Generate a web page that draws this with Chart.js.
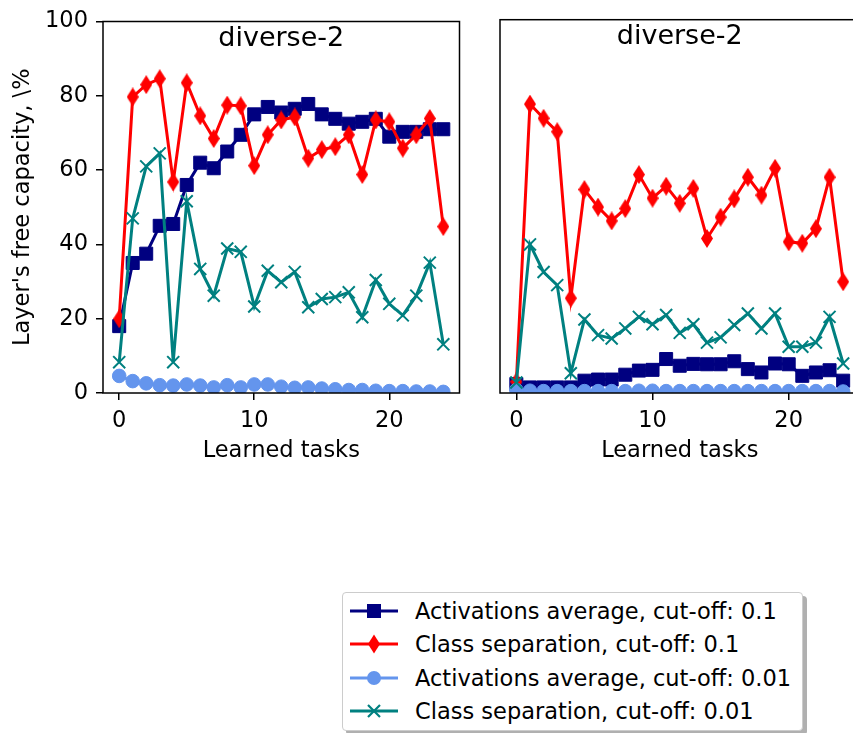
<!DOCTYPE html>
<html>
<head>
<meta charset="utf-8">
<script src="https://cdn.jsdelivr.net/npm/chart.js@4.4.0/dist/chart.umd.min.js"></script>
<style>
  html, body { margin: 0; padding: 0; background: #fff; overflow: hidden; width: 853px; height: 733px; }
  body { position: relative; font-family: "DejaVu Sans", sans-serif; }
  .panel { position: absolute; top: 0; }
  #leftPanel { left: 0; }
  #rightPanel { left: 480px; }
  #legend { position: absolute; left: 342px; top: 592px; width: 459px; height: 137px;
            border: 1px solid #ccc; border-radius: 4px; background: #fff; box-shadow: 4px 4px 0 #b0b0b0; }
  .row { position: absolute; left: 7px; height: 33px; display: flex; align-items: center; }
  .row svg { width: 48px; height: 22px; flex: none; }
  .row span { font-size: 22.5px; margin-left: 17px; color: #000; white-space: nowrap; }
</style>
</head>
<body>
<canvas id="leftPanel" class="panel" width="470" height="470"></canvas>
<canvas id="rightPanel" class="panel" width="390" height="470"></canvas>
<div id="legend"></div>

<script>
// x axis: learned tasks
const tasks = [0, 1, 2, 3, 4, 5, 6, 7, 8, 9, 10, 11, 12, 13, 14, 15, 16, 17, 18, 19, 20, 21, 22, 23, 24];
const xTicks = [0, 10, 20];
const yTicks = [0, 20, 40, 60, 80, 100];

const panelTitle = "diverse-2";
const xTitle = "Learned tasks";
const yTitle = "Layer's free capacity, \\%";

const seriesLabels = [
    "Activations average, cut-off: 0.1",
    "Class separation, cut-off: 0.1",
    "Activations average, cut-off: 0.01",
    "Class separation, cut-off: 0.01"
];
const seriesColors = ["#000080", "#ff0000", "#6495ed", "#008080"];

// left panel
const actAvg01Left = [18, 35, 37.5, 45, 45.5, 56, 62, 60.5, 65, 69.5, 75, 77, 75.5, 76.5, 77.8, 75, 73.8, 72.5, 73, 73.8, 69, 70.3, 70.3, 71, 71];
const classSep01Left = [20, 79.7, 83, 84.6, 56.8, 83.5, 74.6, 68.5, 77.5, 77.3, 61.2, 69.5, 73.5, 74.3, 63.2, 65.5, 66.3, 69.5, 58.8, 73.5, 73, 65.9, 69.5, 73.9, 44.8];
const actAvg001Left = [4.6, 3.2, 2.6, 2.1, 2, 2.3, 2, 1.5, 2.1, 1.5, 2.3, 2.3, 1.7, 1.4, 1.5, 1.2, 1, 0.8, 0.8, 0.6, 0.5, 0.5, 0.4, 0.4, 0.3];
const classSep001Left = [8.3, 47, 61, 64.5, 8.3, 51.6, 33.4, 26.2, 38.9, 38, 23.3, 32.9, 29.8, 32.6, 23.1, 25.3, 25.8, 27.1, 20.4, 30.4, 24, 20.9, 26.2, 35.1, 13.1];

// right panel
const actAvg01Right = [2.4, 1.5, 1.5, 1.5, 1.5, 3.3, 3.6, 3.6, 4.9, 6, 6.2, 9.1, 7.3, 7.8, 7.7, 7.7, 8.5, 6.4, 5.5, 7.9, 7.7, 4.6, 5.5, 6.1, 3.3];
const classSep01Right = [3, 77.4, 73.6, 70, 25.4, 54.5, 49.8, 46.1, 49.4, 58.5, 52.2, 55.4, 50.8, 54.8, 41.4, 47.1, 52, 57.8, 53, 60.2, 40.5, 40.1, 44, 57.8, 29.8];
const actAvg001Right = [0.8, 0.6, 0.5, 0.5, 0.5, 0.5, 0.5, 0.5, 0.5, 0.6, 0.6, 0.5, 0.5, 0.5, 0.5, 0.5, 0.5, 0.5, 0.5, 0.5, 0.5, 0.5, 0.5, 0.5, 0.4];
const classSep001Right = [2.8, 39.8, 32.4, 28.9, 5.3, 19.7, 15.5, 14.6, 17.3, 20.4, 18.4, 20.9, 16.1, 18.4, 13.5, 14.9, 18.2, 21.3, 17.3, 21.3, 12.4, 12.4, 13.5, 20.4, 7.9];

Chart.defaults.font.family = "'DejaVu Sans', sans-serif";
Chart.defaults.font.size = 22.5;
Chart.defaults.color = "#000";

// matplotlib-like thin diamond ('d' marker)
function thinDiamond(color, w, h) {
    const c = document.createElement("canvas");
    c.width = w;
    c.height = h;
    const g = c.getContext("2d");
    g.fillStyle = color;
    g.beginPath();
    g.moveTo(w / 2, 0);
    g.lineTo(w, h / 2);
    g.lineTo(w / 2, h);
    g.lineTo(0, h / 2);
    g.closePath();
    g.fill();
    return c;
}
const diamondImg = thinDiamond(seriesColors[1], 12, 19);

function series(idx, values, style, radius, pointBorder, order) {
    return {
        label: seriesLabels[idx],
        data: values.map((v, i) => ({ x: tasks[i], y: v })),
        borderColor: seriesColors[idx],
        backgroundColor: seriesColors[idx],
        borderWidth: 3,
        pointStyle: style,
        pointRadius: radius,
        pointBorderWidth: pointBorder,
        pointBackgroundColor: seriesColors[idx],
        pointBorderColor: seriesColors[idx],
        order: order
    };
}

// axes box + title drawn inside the plot
const framePlugin = {
    id: "frame",
    afterDraw(chart) {
        const { ctx, chartArea: a } = chart;
        ctx.save();
        ctx.strokeStyle = "#000";
        ctx.lineWidth = 1.5;
        ctx.strokeRect(a.left, a.top, a.right - a.left, a.bottom - a.top);
        ctx.fillStyle = "#000";
        ctx.font = "27px 'DejaVu Sans'";
        ctx.textAlign = "center";
        ctx.textBaseline = "alphabetic";
        ctx.fillText(panelTitle, (a.left + a.right) / 2, a.top + 24);
        ctx.restore();
    }
};

const tickGrid = { drawOnChartArea: false, drawTicks: true, tickLength: 7, color: "#000", lineWidth: 1.5 };

function makePanel(id, values, showY, padding) {
    const datasets = [
        series(0, values[0], "rect", 9.2, 1, 4),
        series(1, values[1], diamondImg, 8, 0, 3),
        series(2, values[2], "circle", 6.8, 1, 2),
        series(3, values[3], "crossRot", 8.5, 2, 1)
    ];
    const yScale = showY ? {
        min: 0,
        max: 100,
        afterBuildTicks: s => { s.ticks = yTicks.map(v => ({ value: v })); },
        afterFit: s => { s.width = 103; },
        grid: tickGrid,
        border: { display: false },
        ticks: { padding: 8, callback: v => String(v) },
        title: { display: true, text: yTitle, padding: { top: 10, bottom: 0 } }
    } : { display: false, min: 0, max: 100 };

    return new Chart(document.getElementById(id), {
        type: "line",
        data: { datasets: datasets },
        options: {
            responsive: false,
            animation: false,
            events: [],
            layout: { padding: padding },
            plugins: { legend: { display: false }, tooltip: { enabled: false } },
            scales: {
                x: {
                    type: "linear",
                    min: -1.2,
                    max: 25.2,
                    afterBuildTicks: s => { s.ticks = xTicks.map(v => ({ value: v })); },
                    afterFit: s => { s.height = 77; },
                    grid: tickGrid,
                    border: { display: false },
                    ticks: { padding: 8, maxRotation: 0, autoSkip: false, callback: v => String(v) },
                    title: { display: true, text: xTitle, padding: { top: 0, bottom: 5 } }
                },
                y: yScale
            }
        },
        plugins: [framePlugin]
    });
}

makePanel("leftPanel", [actAvg01Left, classSep01Left, actAvg001Left, classSep001Left], true,
    { left: 0, right: 6, top: 19.7, bottom: 0 });
makePanel("rightPanel", [actAvg01Right, classSep01Right, actAvg001Right, classSep001Right], false,
    { left: 20, right: 8.3, top: 19.7, bottom: 0 });

// legend (matplotlib style: line + marker, text)
const markerSvg = [
    '<rect x="17" y="4" width="14" height="14" fill="#000080"/>',
    '<polygon points="24,1.5 30,11 24,20.5 18,11" fill="#ff0000"/>',
    '<circle cx="24" cy="11" r="7" fill="#6495ed"/>',
    '<path d="M18,5 L30,17 M30,5 L18,17" stroke="#008080" stroke-width="2.2"/>'
];
const legend = document.getElementById("legend");
const rowCenters = [18, 51, 85, 118];
seriesLabels.forEach((label, i) => {
    const row = document.createElement("div");
    row.className = "row";
    row.style.top = (rowCenters[i] - 16.5) + "px";
    row.innerHTML = '<svg viewBox="0 0 48 22"><line x1="0" y1="11" x2="48" y2="11" stroke="' +
        seriesColors[i] + '" stroke-width="3"/>' + markerSvg[i] + '</svg><span>' + label + '</span>';
    legend.appendChild(row);
});
</script>
</body>
</html>
